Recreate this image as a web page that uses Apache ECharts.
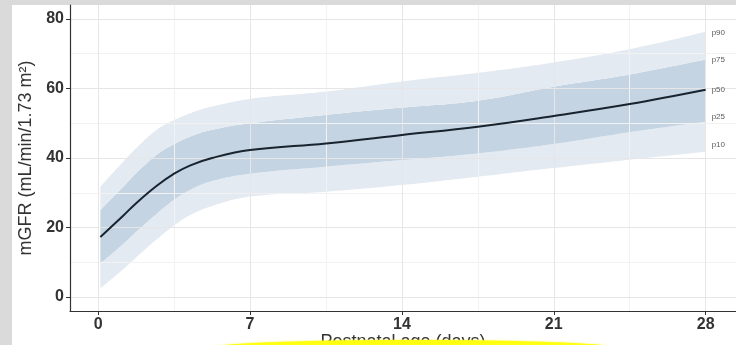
<!DOCTYPE html>
<html>
<head>
<meta charset="utf-8">
<style>
  html, body { margin: 0; padding: 0; background: #dadada; }
  #chart { width: 736px; height: 345px; }
</style>
<script src="https://cdn.jsdelivr.net/npm/echarts@6/dist/echarts.min.js"></script>
</head>
<body>
<div id="chart"></div>
<script>
// Postnatal age (days) and mGFR percentile curves
const days = [0.1, 1.15, 1.75, 2.7, 3.5, 4.25, 5.25, 7, 10.5, 14, 17.5, 21, 24.5, 28];
const p10  = [2.5, 8.0, 11.4, 16.6, 20.6, 23.6, 26.2, 28.9, 30.3, 32.2, 34.6, 37.1, 39.5, 41.8];
const p25  = [9.7, 15.3, 18.8, 24.0, 28.0, 30.9, 33.4, 35.5, 37.5, 39.4, 41.3, 44.0, 47.4, 50.4];
const p50  = [17.3, 23.4, 27.0, 32.0, 35.5, 37.9, 40.0, 42.3, 44.2, 46.6, 49.0, 52.1, 55.5, 59.6];
const p75  = [25.0, 31.7, 35.6, 40.9, 44.0, 46.2, 48.1, 50.0, 52.4, 54.5, 56.5, 60.5, 64.0, 68.3];
const p90  = [31.7, 38.9, 42.8, 48.1, 50.9, 52.9, 54.8, 57.0, 59.1, 62.0, 64.5, 67.5, 71.3, 76.3];

// Axis ticks
const xTicks = [0, 7, 14, 21, 28];
const xMinor = [3.5, 10.5, 17.5, 24.5];
const yTicks = [0, 20, 40, 60, 80];
const yMinor = [10, 30, 50, 70];

const FONT = '"Liberation Sans", Arial, sans-serif';
const LIGHT = '#e4eaf1';
const DARK = '#c4d4e3';
const SMOOTH = 0.4;

// rows are [value, day]; the value comes first so the stack sums the y values
const rows = (ys) => days.map((d, i) => [ys[i], d]);
const diffRows = (hi, lo) => days.map((d, i) => [+(hi[i] - lo[i]).toFixed(2), d]);

function gridLines(values, axisKey, color) {
  return values.map(v => ({ [axisKey]: v, lineStyle: { color: color, width: 1, type: 'solid' } }));
}

const endLab = (text, dy) => ({
  show: true,
  formatter: text,
  color: '#5a5a5a',
  fontSize: 8,
  fontFamily: FONT,
  distance: 6,
  offset: [0, dy]
});

const bandSeries = (name, data, fill, label) => ({
  name: name,
  type: 'line',
  stack: 'pct',
  data: data,
  encode: { x: 1, y: 0 },
  smooth: SMOOTH,
  showSymbol: false,
  silent: true,
  z: 3,
  lineStyle: { width: 0, opacity: 0 },
  areaStyle: fill ? { color: fill, opacity: 1 } : undefined,
  endLabel: label
});

const chart = echarts.init(document.getElementById('chart'), null, { renderer: 'canvas' });

chart.setOption({
  animation: false,
  backgroundColor: '#dadada',
  textStyle: { fontFamily: FONT },
  graphic: [
    // white plotting panel
    { type: 'rect', z: -10, shape: { x: 12, y: 5, width: 724, height: 340 }, style: { fill: '#ffffff' }, silent: true },
    // yellow highlight over the x-axis title
    { type: 'ellipse', z: 100, shape: { cx: 413, cy: 347.5, rx: 200, ry: 7.5 },
      style: { fill: '#ffff10', shadowBlur: 2, shadowColor: '#ffff40' }, silent: true }
  ],
  grid: { left: 70, right: 0, top: 5, bottom: 34, containLabel: false, outerBoundsMode: 'none' },
  xAxis: {
    type: 'value',
    z: 10,
    min: -1.3,
    max: 29.4,
    name: 'Postnatal age (days)',
    nameLocation: 'middle',
    nameGap: 22,
    nameMoveOverlap: false,
    nameTextStyle: { color: '#333', fontSize: 18, fontFamily: FONT },
    axisLine: { show: true, onZero: false, lineStyle: { color: '#333', width: 1.2 } },
    axisTick: { show: true, customValues: xTicks, length: 4, lineStyle: { color: '#333' } },
    axisLabel: { customValues: xTicks, color: '#333', fontSize: 16, fontWeight: 'bold', margin: 6, fontFamily: FONT },
    splitLine: { show: false }
  },
  yAxis: {
    type: 'value',
    z: 10,
    min: -4,
    max: 84,
    name: 'mGFR (mL/min/1.73 m²)',
    nameLocation: 'middle',
    nameRotate: 90,
    nameGap: 32,
    nameTextStyle: { color: '#333', fontSize: 18, fontFamily: FONT },
    axisLine: { show: true, onZero: false, lineStyle: { color: '#333', width: 1.2 } },
    axisTick: { show: true, customValues: yTicks, length: 4, lineStyle: { color: '#333' } },
    axisLabel: { customValues: yTicks, color: '#333', fontSize: 16, fontWeight: 'bold', margin: 6, fontFamily: FONT },
    splitLine: { show: false }
  },
  series: [
    {
      name: 'grid',
      type: 'line',
      data: [],
      silent: true,
      z: 1,
      markLine: {
        silent: true,
        symbol: 'none',
        label: { show: false },
        animation: false,
        data: [].concat(
          gridLines(xMinor, 'xAxis', '#f2f2f2'),
          gridLines(yMinor, 'yAxis', '#f2f2f2'),
          gridLines(xTicks, 'xAxis', '#e6e6e6'),
          gridLines(yTicks, 'yAxis', '#e6e6e6')
        )
      }
    },
    bandSeries('p10', rows(p10), null, endLab('p10', -7)),
    bandSeries('p25', diffRows(p25, p10), LIGHT, endLab('p25', -5)),
    bandSeries('p75', diffRows(p75, p25), DARK, endLab('p75', 0)),
    bandSeries('p90', diffRows(p90, p75), LIGHT, endLab('p90', 1)),
    {
      name: 'p50',
      type: 'line',
      data: rows(p50),
      encode: { x: 1, y: 0 },
      smooth: SMOOTH,
      showSymbol: false,
      silent: true,
      z: 5,
      lineStyle: { color: '#18232e', width: 2 },
      endLabel: endLab('p50', 0)
    }
  ]
});
</script>
</body>
</html>
